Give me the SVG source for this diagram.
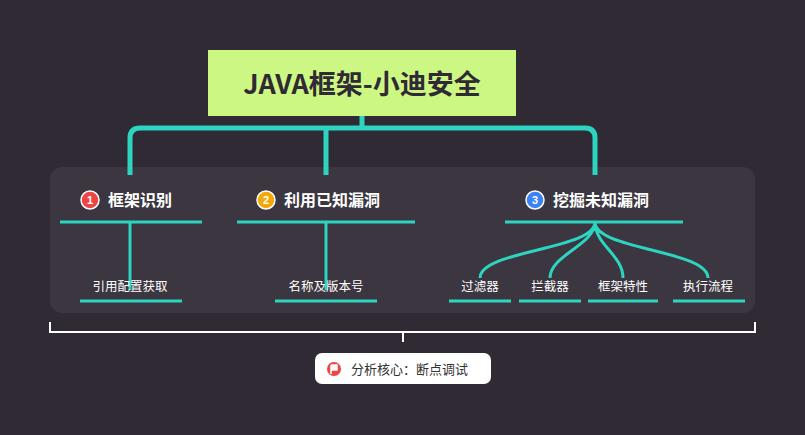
<svg xmlns="http://www.w3.org/2000/svg" width="805" height="435" viewBox="0 0 805 435">
<style>
.c{fill:none;stroke:#2dd4bf;stroke-width:3}
.h{font-family:"Noto Sans CJK SC","Noto Sans",sans-serif;font-weight:bold;font-size:16px;fill:#fff}
.s{font-family:"Noto Sans CJK SC","Noto Sans",sans-serif;font-size:12.5px;fill:#fff}
.n{font-family:"Liberation Sans",sans-serif;font-weight:bold;font-size:11px;fill:#fff}
</style>
<rect width="805" height="435" fill="#2f2a33"/>
<rect x="50" y="167" width="705" height="146" rx="12" fill="#3b3640"/>
<g id="connectors">
<path class="c" d="M362 115V127M130 175V138Q130 128 140 128H585Q595 128 595 138V175M326 175V128" stroke-width="5" style="stroke-width:5"/>
<path class="c" d="M130 222V290M326 222V290"/>
<path class="c" d="M595 222C595 250 480 250 480 278M595 222C595 245 550 255 550 278M595 222C595 245 623 255 623 278M595 222C595 250 708 250 708 278"/>
<path d="M50 322V332H755V322M403 332V342" fill="none" stroke="#fff" stroke-width="2"/>
</g>
<g id="root"><rect x="208" y="50" width="308" height="66" fill="#cdf783"/><text x="362" y="94" text-anchor="middle" font-family="Noto Sans CJK SC,sans-serif" font-weight="bold" font-size="27" fill="#2f2a33">JAVA框架-小迪安全</text></g>
<g id="n1"><circle cx="90" cy="200" r="9" fill="#ef4444" stroke="#fff" stroke-width="1.5"/><text x="90" y="204" class="n" text-anchor="middle">1</text><text x="108" y="206" class="h">框架识别</text><path class="c" d="M60 222H202"/></g>
<g id="n2"><circle cx="266" cy="200" r="9" fill="#f5a70a" stroke="#fff" stroke-width="1.5"/><text x="266" y="204" class="n" text-anchor="middle">2</text><text x="284" y="206" class="h">利用已知漏洞</text><path class="c" d="M237 222H415"/></g>
<g id="n3"><circle cx="535" cy="200" r="9" fill="#3b82f6" stroke="#fff" stroke-width="1.5"/><text x="535" y="204" class="n" text-anchor="middle">3</text><text x="553" y="206" class="h">挖掘未知漏洞</text><path class="c" d="M505 222H683"/></g>
<g id="l1"><text x="130" y="291" class="s" text-anchor="middle">引用配置获取</text><path class="c" d="M80 301H182"/></g>
<g id="l2"><text x="326" y="291" class="s" text-anchor="middle">名称及版本号</text><path class="c" d="M275 301H377"/></g>
<g id="l3"><text x="480" y="291" class="s" text-anchor="middle">过滤器</text><path class="c" d="M449 301H511"/></g>
<g id="l4"><text x="550" y="291" class="s" text-anchor="middle">拦截器</text><path class="c" d="M519 301H581"/></g>
<g id="l5"><text x="623" y="291" class="s" text-anchor="middle">框架特性</text><path class="c" d="M588 301H658"/></g>
<g id="l6"><text x="708" y="291" class="s" text-anchor="middle">执行流程</text><path class="c" d="M673 301H745"/></g>
<g id="note"><rect x="315" y="353" width="176" height="31" rx="7" fill="#fff"/><circle cx="334" cy="369" r="7" fill="#ef4444"/><path d="M331 365V374M331 365H337V370H331" fill="#fff" stroke="#fff" stroke-width="1.5"/><text x="351" y="374" font-family="Noto Sans CJK SC,sans-serif" font-size="13" fill="#333">分析核心：断点调试</text></g>
</svg>
